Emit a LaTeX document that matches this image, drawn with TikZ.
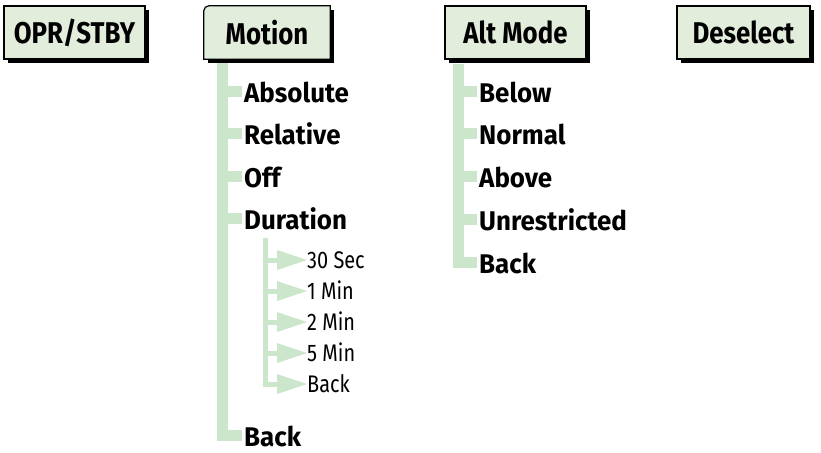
\documentclass[tikz,border=0pt]{standalone}
\usepackage{fontspec}
\setmainfont{Fira Sans}
\newfontfamily\itemfont{Fira Sans}[FakeStretch=0.96]
\newfontfamily\boxfont{Fira Sans}[FakeStretch=0.86]
\newfontfamily\subfont{Fira Sans}[FakeStretch=0.83]
\usetikzlibrary{calc,shadows,backgrounds}
\definecolor{boxc}{RGB}{226,237,220}
\definecolor{trunkc}{RGB}{204,230,204}
\begin{document}
\begin{tikzpicture}[x=1pt,y=-1pt,
  trunk/.style={draw=trunkc, line width=11pt, line cap=butt, line join=miter},
  subline/.style={draw=trunkc, line width=5pt, line join=miter},
  tri/.style={fill=trunkc},
  item/.style={anchor=base west, inner sep=0pt, font=\itemfont\bfseries\fontsize{27}{27}\selectfont},
  subitem/.style={anchor=base west, inner sep=0pt, font=\subfont\fontsize{24}{24}\selectfont},
  boxtext/.style={inner sep=0pt, minimum height=53pt, font=\boxfont\bfseries\fontsize{30}{30}\selectfont},
  box/.style={boxtext, draw=black, line width=1.2pt, fill=boxc,
    drop shadow={shadow xshift=4pt, shadow yshift=-4pt, fill=black, opacity=1}}]
\useasboundingbox (0,0) rectangle (821,452);

% top boxes
\node[box, minimum width=141pt] (opr) at (74.5,32.5) {OPR/STBY};
\node[boxtext, minimum width=126pt] (mot) at (267,32.5) {Motion};
\node[box, minimum width=141pt] (alt) at (515.5,32.5) {Alt Mode};
\node[box, minimum width=133pt] (des) at (743.5,32.5) {Deselect};

\begin{scope}[on background layer]
  \fill[white] (0,0) rectangle (821,452);
  \fill[black] ($(mot.south west)+(4,4)$) rectangle ($(mot.north east)+(4,4)$);
  \filldraw[fill=boxc, draw=black, line width=1.2pt]
    (mot.south west) -- ($(mot.north west)+(0,5)$)
    arc[start angle=180, end angle=90, radius=5pt]
    -- (mot.north east) -- (mot.south east) -- cycle;
\end{scope}

% Motion items
\node[item] (mabs) at (244,102) {Absolute};
\node[item] (mrel) at (244,144.6) {Relative};
\node[item] (moff) at (244,187.2) {Off};
\node[item] (mdur) at (244,229.8) {Duration};
\node[item] (mback) at (244,446) {Back};

% Duration sub-items
\node[subitem] (s1) at (307,268) {30 Sec};
\node[subitem] (s2) at (307,299) {1 Min};
\node[subitem] (s3) at (307,330) {2 Min};
\node[subitem] (s4) at (307,361) {5 Min};
\node[subitem] (s5) at (307,392) {Back};

% Alt Mode items
\node[item] (abel) at (479,102) {Below};
\node[item] (anor) at (479,144.7) {Normal};
\node[item] (aabo) at (479,187.4) {Above};
\node[item] (aunr) at (479,230.1) {Unrestricted};
\node[item] (aback) at (479,273) {Back};

% Motion tree
\coordinate (mtx) at (222.5,0);
\draw[trunk] ($(mot.south -| mtx)+(0,4)$) |- ($(mback.base west)+(-2,-11)$);
\foreach \n in {mabs,mrel,moff,mdur}
  \draw[trunk] ($(mtx |- \n.base west)+(0,-11)$) -- ($(\n.base west)+(-2,-11)$);

% Duration sub-tree
\coordinate (stx) at (265.5,0);
\draw[subline] ($(stx |- mdur.base west)+(0,8)$) |- ($(s5.base west)+(-28,-8)$);
\foreach \n in {s1,s2,s3,s4}
  \draw[subline] ($(stx |- \n.base west)+(0,-8)$) -- ($(\n.base west)+(-28,-8)$);
\foreach \n in {s1,s2,s3,s4,s5}
  \fill[tri] ($(\n.base west)+(0,-8)$) -- ++(-30,-10) -- ++(0,20) -- cycle;

% Alt Mode tree
\coordinate (atx) at (458.5,0);
\draw[trunk] ($(alt.south -| atx)+(0,4)$) |- ($(aback.base west)+(-2,-11)$);
\foreach \n in {abel,anor,aabo,aunr}
  \draw[trunk] ($(atx |- \n.base west)+(0,-11)$) -- ($(\n.base west)+(-2,-11)$);
\end{tikzpicture}
\end{document}
